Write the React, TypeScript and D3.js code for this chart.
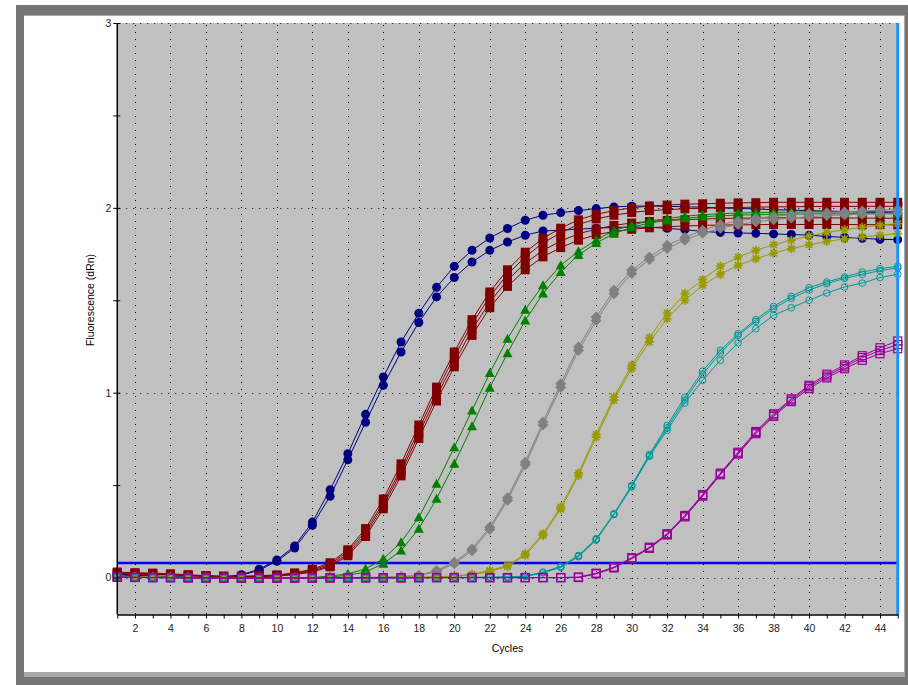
import React, { useEffect, useRef } from 'react';
import { select, scaleLinear, line, axisBottom, axisLeft } from 'd3';

const cycles = [
  1, 2, 3, 4, 5, 6, 7, 8, 9, 10, 11, 12, 13, 14, 15, 16, 17, 18, 19, 20, 21, 22, 23,
  24, 25, 26, 27, 28, 29, 30, 31, 32, 33, 34, 35, 36, 37, 38, 39, 40, 41, 42, 43, 44, 45
];
const xTickLabels = [2, 4, 6, 8, 10, 12, 14, 16, 18, 20, 22, 24, 26, 28, 30, 32, 34, 36, 38, 40, 42, 44];
const yMajorTicks = [0, 1, 2, 3];
const yMinorTicks = [0.5, 1.5, 2.5];
const threshold = 0.078;

// navy, filled circles
const blueA = [0.02, 0.012, 0.008, 0.005, 0.002, 0, 0.003, 0.015, 0.045, 0.095, 0.17, 0.3, 0.475, 0.67, 0.883, 1.085, 1.274, 1.43, 1.57, 1.684, 1.77, 1.837, 1.888, 1.933, 1.96, 1.974, 1.985, 1.996, 2.005, 2.009, 2.01, 2.008, 2.006, 2.003, 2.0, 1.997, 1.994, 1.99, 1.988, 1.985, 1.982, 1.98, 1.977, 1.975, 1.972];
const blueB = [0.015, 0.01, 0.006, 0.003, 0, -0.002, 0.002, 0.012, 0.04, 0.088, 0.16, 0.283, 0.44, 0.637, 0.84, 1.04, 1.22, 1.38, 1.518, 1.623, 1.707, 1.77, 1.815, 1.852, 1.875, 1.879, 1.885, 1.89, 1.894, 1.896, 1.895, 1.889, 1.882, 1.872, 1.867, 1.864, 1.862, 1.859, 1.856, 1.852, 1.845, 1.84, 1.835, 1.83, 1.828];

// maroon, filled squares
const redA = [0.03, 0.026, 0.024, 0.02, 0.015, 0.01, 0.008, 0.007, 0.01, 0.014, 0.025, 0.045, 0.08, 0.15, 0.265, 0.425, 0.615, 0.825, 1.03, 1.22, 1.395, 1.545, 1.665, 1.76, 1.835, 1.89, 1.935, 1.965, 1.985, 2.0, 2.01, 2.015, 2.02, 2.022, 2.025, 2.027, 2.028, 2.03, 2.03, 2.03, 2.03, 2.03, 2.03, 2.03, 2.03];
const redB = [0.026, 0.023, 0.021, 0.018, 0.013, 0.008, 0.006, 0.005, 0.008, 0.012, 0.022, 0.04, 0.072, 0.14, 0.25, 0.405, 0.59, 0.8, 1.005, 1.195, 1.37, 1.52, 1.64, 1.735, 1.81, 1.865, 1.91, 1.94, 1.96, 1.975, 1.985, 1.99, 1.995, 1.998, 2.0, 2.002, 2.004, 2.005, 2.006, 2.007, 2.008, 2.008, 2.008, 2.008, 2.008];
const redC = [0.022, 0.02, 0.018, 0.016, 0.011, 0.007, 0.004, 0.004, 0.006, 0.01, 0.018, 0.034, 0.065, 0.128, 0.235, 0.39, 0.57, 0.775, 0.98, 1.165, 1.34, 1.49, 1.61, 1.7, 1.77, 1.82, 1.86, 1.885, 1.905, 1.918, 1.926, 1.932, 1.936, 1.94, 1.942, 1.944, 1.945, 1.946, 1.946, 1.946, 1.946, 1.945, 1.945, 1.944, 1.944];
const redD = [0.02, 0.018, 0.016, 0.014, 0.01, 0.006, 0.003, 0.003, 0.005, 0.008, 0.015, 0.03, 0.058, 0.118, 0.222, 0.372, 0.55, 0.752, 0.955, 1.14, 1.31, 1.46, 1.575, 1.665, 1.735, 1.785, 1.825, 1.855, 1.872, 1.884, 1.892, 1.898, 1.902, 1.905, 1.907, 1.908, 1.909, 1.91, 1.91, 1.91, 1.91, 1.91, 1.909, 1.909, 1.908];

// green, triangles
const greenA = [0.005, 0.004, 0.003, 0.002, 0, -0.002, -0.003, -0.004, -0.004, -0.003, -0.002, 0, 0.008, 0.02, 0.047, 0.101, 0.191, 0.326, 0.507, 0.705, 0.904, 1.106, 1.292, 1.449, 1.581, 1.689, 1.765, 1.826, 1.877, 1.906, 1.929, 1.942, 1.955, 1.963, 1.968, 1.972, 1.974, 1.976, 1.977, 1.978, 1.979, 1.98, 1.98, 1.98, 1.98];
const greenB = [0.003, 0.002, 0.001, 0, -0.002, -0.004, -0.005, -0.005, -0.005, -0.004, -0.003, -0.002, 0.003, 0.012, 0.03, 0.075, 0.146, 0.264, 0.426, 0.615, 0.818, 1.027, 1.214, 1.391, 1.536, 1.653, 1.745, 1.81, 1.86, 1.895, 1.918, 1.932, 1.944, 1.952, 1.957, 1.961, 1.963, 1.965, 1.966, 1.967, 1.968, 1.968, 1.968, 1.968, 1.968];

// gray, diamonds
const grayA = [0.004, 0.003, 0.002, 0.001, 0, -0.001, -0.002, -0.002, -0.002, -0.002, -0.001, -0.001, 0, 0, 0.001, 0.002, 0.005, 0.012, 0.038, 0.083, 0.155, 0.272, 0.431, 0.624, 0.841, 1.049, 1.247, 1.409, 1.554, 1.662, 1.734, 1.797, 1.84, 1.879, 1.91, 1.929, 1.942, 1.955, 1.962, 1.969, 1.974, 1.978, 1.983, 1.987, 1.991];
const grayB = [0.003, 0.002, 0.001, 0, -0.001, -0.002, -0.003, -0.003, -0.003, -0.002, -0.002, -0.001, -0.001, 0, 0, 0.001, 0.004, 0.01, 0.032, 0.075, 0.145, 0.26, 0.418, 0.61, 0.825, 1.03, 1.228, 1.39, 1.535, 1.645, 1.72, 1.78, 1.825, 1.862, 1.89, 1.91, 1.925, 1.936, 1.945, 1.952, 1.958, 1.962, 1.966, 1.969, 1.972];

// olive, asterisks
const oliveA = [0.004, 0.003, 0.002, 0.001, 0, -0.001, -0.002, -0.003, -0.003, -0.003, -0.002, -0.002, -0.001, -0.001, 0, 0, 0.001, 0.002, 0.004, 0.008, 0.018, 0.038, 0.065, 0.128, 0.237, 0.381, 0.565, 0.774, 0.976, 1.148, 1.298, 1.431, 1.536, 1.612, 1.684, 1.734, 1.77, 1.8, 1.825, 1.848, 1.866, 1.882, 1.895, 1.906, 1.915];
const oliveB = [0.003, 0.002, 0.001, 0, -0.001, -0.002, -0.003, -0.004, -0.004, -0.004, -0.003, -0.003, -0.002, -0.001, -0.001, 0, 0, 0.001, 0.003, 0.006, 0.015, 0.033, 0.06, 0.12, 0.228, 0.37, 0.552, 0.76, 0.96, 1.13, 1.275, 1.4, 1.5, 1.581, 1.64, 1.689, 1.725, 1.755, 1.78, 1.8, 1.818, 1.832, 1.843, 1.852, 1.86];

// teal, open circles
const tealA = [0.002, 0.001, 0, 0, -0.001, -0.002, -0.003, -0.003, -0.003, -0.003, -0.003, -0.002, -0.002, -0.002, -0.001, -0.001, 0, 0, 0, 0.001, 0.001, 0.002, 0.003, 0.008, 0.029, 0.06, 0.119, 0.21, 0.345, 0.498, 0.666, 0.823, 0.976, 1.117, 1.229, 1.319, 1.395, 1.467, 1.521, 1.568, 1.599, 1.626, 1.653, 1.671, 1.684];
const tealB = [0.001, 0, -0.001, -0.001, -0.002, -0.003, -0.004, -0.004, -0.004, -0.004, -0.004, -0.003, -0.003, -0.003, -0.002, -0.002, -0.001, -0.001, -0.001, 0, 0, 0.001, 0.002, 0.006, 0.025, 0.055, 0.113, 0.203, 0.34, 0.49, 0.655, 0.796, 0.944, 1.067, 1.175, 1.269, 1.346, 1.419, 1.46, 1.5, 1.539, 1.572, 1.593, 1.623, 1.641];
const tealC = [0.002, 0.001, 0, -0.001, -0.001, -0.002, -0.003, -0.003, -0.004, -0.003, -0.003, -0.003, -0.002, -0.002, -0.002, -0.001, -0.001, 0, 0, 0, 0.001, 0.001, 0.002, 0.007, 0.027, 0.058, 0.116, 0.207, 0.342, 0.494, 0.66, 0.81, 0.96, 1.1, 1.215, 1.31, 1.385, 1.455, 1.51, 1.555, 1.59, 1.618, 1.64, 1.66, 1.675];

// purple, open squares
const purpleA = [0.002, 0.001, 0, 0, -0.001, -0.001, -0.002, -0.002, -0.002, -0.002, -0.002, -0.002, -0.001, -0.001, -0.001, -0.001, -0.001, 0, 0, 0, 0, 0, 0, 0, 0, 0, 0.002, 0.023, 0.056, 0.107, 0.164, 0.237, 0.336, 0.449, 0.565, 0.678, 0.79, 0.886, 0.967, 1.04, 1.1, 1.15, 1.2, 1.243, 1.28];
const purpleB = [0.001, 0, -0.001, -0.001, -0.002, -0.002, -0.003, -0.003, -0.003, -0.003, -0.003, -0.003, -0.002, -0.002, -0.002, -0.002, -0.002, -0.001, -0.001, -0.001, -0.001, -0.001, -0.001, -0.001, -0.001, -0.001, 0, 0.02, 0.052, 0.102, 0.158, 0.23, 0.328, 0.44, 0.556, 0.668, 0.778, 0.872, 0.952, 1.022, 1.08, 1.13, 1.175, 1.211, 1.238];
const purpleC = [0.002, 0.001, 0, -0.001, -0.001, -0.002, -0.002, -0.003, -0.003, -0.003, -0.002, -0.002, -0.002, -0.002, -0.001, -0.001, -0.001, -0.001, 0, 0, 0, 0, 0, 0, 0, 0, 0.001, 0.022, 0.054, 0.105, 0.161, 0.234, 0.332, 0.445, 0.56, 0.673, 0.784, 0.879, 0.96, 1.032, 1.09, 1.14, 1.19, 1.228, 1.26];

const groups = [
  { color: '#000080', marker: 'circle', reps: [blueA, blueB] },
  { color: '#800000', marker: 'square', reps: [redA, redB, redC, redD] },
  { color: '#008000', marker: 'triangle', reps: [greenA, greenB] },
  { color: '#808080', marker: 'diamond', reps: [grayA, grayB] },
  { color: '#999900', marker: 'asterisk', reps: [oliveA, oliveB] },
  { color: '#009999', marker: 'ocircle', reps: [tealA, tealB, tealC] },
  { color: '#990099', marker: 'osquare', reps: [purpleA, purpleB, purpleC] }
];

const W = 908;
const H = 685;
const plot = { left: 117.25, right: 897.75, top: 23, bottom: 614.5 };

function drawMarker(g: any, kind: string, cx: number, cy: number, color: string) {
  if (kind === 'circle') {
    g.append('circle').attr('cx', cx).attr('cy', cy).attr('r', 4.5).attr('fill', color);
  } else if (kind === 'square') {
    g.append('rect').attr('x', cx - 4.5).attr('y', cy - 4.5).attr('width', 9).attr('height', 9).attr('fill', color);
  } else if (kind === 'triangle') {
    g.append('path')
      .attr('d', `M${cx},${cy - 5}L${cx + 5},${cy + 4}L${cx - 5},${cy + 4}Z`)
      .attr('fill', color);
  } else if (kind === 'diamond') {
    g.append('path')
      .attr('d', `M${cx},${cy - 5.5}L${cx + 5.5},${cy}L${cx},${cy + 5.5}L${cx - 5.5},${cy}Z`)
      .attr('fill', color);
  } else if (kind === 'asterisk') {
    g.append('path')
      .attr('d', `M${cx - 4.5},${cy}H${cx + 4.5}M${cx},${cy - 4.5}V${cy + 4.5}M${cx - 3.2},${cy - 3.2}L${cx + 3.2},${cy + 3.2}M${cx - 3.2},${cy + 3.2}L${cx + 3.2},${cy - 3.2}`)
      .attr('stroke', color)
      .attr('stroke-width', 1.7)
      .attr('fill', 'none');
  } else if (kind === 'ocircle') {
    g.append('circle').attr('cx', cx).attr('cy', cy).attr('r', 3.3)
      .attr('fill', 'none').attr('stroke', color).attr('stroke-width', 1);
  } else {
    g.append('rect').attr('x', cx - 4).attr('y', cy - 4).attr('width', 8).attr('height', 8)
      .attr('fill', 'none').attr('stroke', color).attr('stroke-width', 1.2);
  }
}

function App() {
  const svgRef = useRef(null);

  useEffect(() => {
    const svg = select(svgRef.current);
    svg.selectAll('*').remove();

    const x = scaleLinear().domain([1, 45]).range([plot.left, plot.right]);
    const y = scaleLinear().domain([-0.2, 3]).range([plot.bottom, plot.top]);

    // frame
    svg.append('rect').attr('width', W).attr('height', H).attr('fill', '#fff');
    svg.append('rect').attr('x', 16).attr('y', 5).attr('width', W - 16).attr('height', H - 5).attr('fill', '#767676');
    svg.append('rect').attr('x', 24).attr('y', 15).attr('width', 881).attr('height', 662).attr('fill', '#a8a8a8');
    svg.append('rect').attr('x', 24).attr('y', 16).attr('width', 880).attr('height', 656).attr('fill', '#fff');

    // plot background
    svg.append('rect')
      .attr('x', plot.left).attr('y', plot.top)
      .attr('width', plot.right - plot.left).attr('height', plot.bottom - plot.top)
      .attr('fill', '#c0c0c0');

    // dotted grid
    const grid = svg.append('g').attr('stroke', '#000').attr('stroke-width', 1).attr('stroke-dasharray', '1 6');
    xTickLabels.forEach(c => {
      const px = Math.round(x(c)) + 0.5;
      grid.append('line').attr('x1', px).attr('x2', px).attr('y1', plot.top + 2).attr('y2', plot.bottom);
    });
    yMajorTicks.forEach(v => {
      const py = Math.round(y(v)) + 0.5;
      grid.append('line').attr('x1', plot.left + 2).attr('x2', plot.right).attr('y1', py).attr('y2', py);
    });

    // threshold
    svg.append('line')
      .attr('x1', plot.left).attr('x2', plot.right)
      .attr('y1', y(threshold)).attr('y2', y(threshold))
      .attr('stroke', '#0000ff').attr('stroke-width', 2.5);

    // curves
    const path = line<number>().x((d, i) => x(cycles[i])).y(d => y(d));
    groups.forEach(gr => {
      const g = svg.append('g');
      gr.reps.forEach(rep => {
        g.append('path').attr('d', path(rep)).attr('fill', 'none').attr('stroke', gr.color).attr('stroke-width', 1);
      });
      gr.reps.forEach(rep => {
        rep.forEach((v, i) => drawMarker(g, gr.marker, x(cycles[i]), y(v), gr.color));
      });
    });

    // right edge
    svg.append('line')
      .attr('x1', plot.right).attr('x2', plot.right)
      .attr('y1', plot.top).attr('y2', plot.bottom)
      .attr('stroke', '#1e90ff').attr('stroke-width', 3);

    // axes
    const xAxis = svg.append('g')
      .attr('transform', `translate(0,${plot.bottom})`)
      .call(
        axisBottom(x)
          .tickValues(cycles)
          .tickSize(4)
          .tickSizeOuter(0)
          .tickPadding(6)
          .tickFormat((d: any) => (xTickLabels.indexOf(d) >= 0 ? String(d) : ''))
      );
    xAxis.select('.domain').attr('stroke', '#000').attr('stroke-width', 1.5);

    const yAxis = svg.append('g')
      .attr('transform', `translate(${plot.left + 3},0)`)
      .call(
        axisLeft(y)
          .tickValues([...yMajorTicks, ...yMinorTicks])
          .tickSize(7)
          .tickSizeOuter(0)
          .tickPadding(2)
          .tickFormat((d: any) => (yMajorTicks.indexOf(d) >= 0 ? String(d) : ''))
      );
    yAxis.select('.domain').remove();
    svg.append('line')
      .attr('x1', plot.left).attr('x2', plot.left)
      .attr('y1', plot.top).attr('y2', plot.bottom)
      .attr('stroke', '#000').attr('stroke-width', 1.5);

    svg.selectAll('.tick text')
      .attr('font-family', 'Liberation Sans, Arial, sans-serif')
      .attr('font-size', 10.5)
      .attr('fill', '#222');

    svg.append('text')
      .attr('x', (plot.left + plot.right) / 2)
      .attr('y', 652)
      .attr('text-anchor', 'middle')
      .attr('font-family', 'Liberation Sans, Arial, sans-serif')
      .attr('font-size', 10.5)
      .attr('fill', '#000')
      .text('Cycles');
    svg.append('text')
      .attr('transform', 'translate(94,300) rotate(-90)')
      .attr('text-anchor', 'middle')
      .attr('font-family', 'Liberation Sans, Arial, sans-serif')
      .attr('font-size', 10.5)
      .attr('fill', '#000')
      .text('Fluorescence (dRn)');
  });

  return (
    <svg
      ref={svgRef}
      width={W}
      height={H}
      style={{ position: 'absolute', left: 0, top: 0 }}
    />
  );
}

export default App;
